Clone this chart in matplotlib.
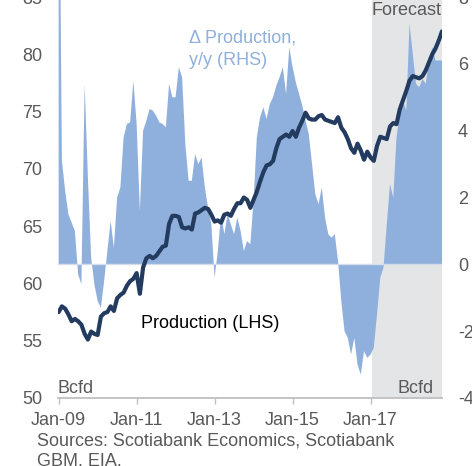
import numpy as np
import matplotlib.pyplot as plt

plt.rcParams['font.family'] = ['Liberation Sans', 'DejaVu Sans']
plt.rcParams['axes.unicode_minus'] = False

# monthly data, Jan-09 onwards
production = [57.5, 58.0, 57.8, 57.3, 56.7, 56.9, 56.7, 56.4, 55.6, 55.1,
              55.8, 55.6, 55.5, 57.1, 57.4, 57.5, 58.0, 57.6, 58.7, 59.0,
              59.2, 59.8, 60.2, 60.4, 60.9, 59.1, 61.4, 62.2, 62.4, 62.2,
              62.4, 62.8, 63.2, 63.3, 65.2, 65.9, 65.9, 65.8, 64.9, 64.8,
              64.9, 64.7, 66.1, 66.2, 66.4, 66.6, 66.5, 66.0, 65.4, 65.5,
              65.3, 66.0, 66.1, 65.9, 66.5, 67.0, 67.0, 67.5, 67.3, 66.6,
              67.3, 68.0, 68.9, 69.7, 70.3, 70.4, 70.7, 71.8, 72.6, 72.8,
              73.0, 72.8, 73.3, 72.8, 73.6, 74.2, 74.9, 74.4, 74.3, 74.3,
              74.6, 74.7, 74.3, 74.2, 74.1, 74.0, 74.5, 73.6, 73.2, 72.6,
              71.8, 71.4, 72.2, 71.6, 70.8, 71.5, 71.0, 70.7, 72.0, 72.8,
              72.7, 72.6, 73.7, 74.0, 73.9, 75.2, 76.0, 76.8, 77.7, 78.1,
              78.0, 77.9, 78.1, 78.6, 79.3, 80.0, 80.5, 81.2, 82.0]

yoy_change = [15.0, 3.1, 2.2, 1.5, 1.25, 1.0, -0.3, -0.6, 5.4, 2.6,
              0.2, -0.6, -1.1, -1.3, -0.5, 0.4, 1.3, 0.5, 2.0, 2.3,
              3.8, 4.2, 4.25, 5.5, 4.2, 1.6, 4.0, 4.3, 4.65, 4.6,
              4.45, 4.25, 4.2, 4.1, 5.4, 5.0, 5.0, 5.9, 5.6, 3.6,
              2.5, 2.5, 3.3, 3.0, 3.2, 2.3, 1.7, 1.2, -0.4, 0.4,
              1.5, 0.9, 1.5, 1.2, 0.9, 1.4, 1.0, 0.4, 0.7, 0.6,
              1.9, 3.8, 4.4, 4.7, 4.35, 4.8, 5.0, 5.35, 5.6, 5.9,
              5.1, 6.5, 5.9, 5.45, 5.1, 4.75, 4.3, 3.9, 3.0, 2.1,
              1.8, 2.3, 1.4, 0.9, 0.8, 0.9, 0.1, -1.1, -2.0, -2.2,
              -2.7, -2.2, -3.0, -3.3, -2.6, -2.8, -2.7, -2.5, -1.5, -0.4,
              -0.1, 1.2, 2.4, 2.0, 3.8, 4.5, 4.9, 4.6, 7.2, 6.3,
              5.4, 5.3, 5.55, 5.4, 6.1, 6.5, 6.1, 6.1, 6.1]

tick_months = [0, 24, 48, 72, 96]
tick_labels = ['Jan-09', 'Jan-11', 'Jan-13', 'Jan-15', 'Jan-17']
forecast_start = 96.4

months = np.arange(len(production))

gray_txt = '#595959'
area_col = '#8FB0DC'
line_col = '#243B60'

W, H = 472, 466
fig = plt.figure(figsize=(W / 100, H / 100), dpi=100)
ax = fig.add_axes([58 / W, 68 / H, 384 / W, 401 / H])
ax2 = ax.twinx()

# right axis: y/y change area + forecast shading
ax2.axvspan(forecast_start, 118, color='#E4E5E7', lw=0, zorder=0)
ax2.fill_between(months, 0, yoy_change, color=area_col, lw=0, zorder=1)
ax2.axhline(0, color='#D3DDEE', lw=1, zorder=2)
ax2.set_ylim(-4, 8)
ax2.set_yticks(range(-4, 9, 2))

# left axis: production line
ax.plot(months, production, color=line_col, lw=3, solid_joinstyle='round',
        solid_capstyle='round', zorder=3)
ax.set_ylim(50, 85)
ax.set_yticks(range(50, 86, 5))
ax.set_xlim(-0.2, 118)
ax.set_xticks(tick_months)
ax.set_xticklabels(tick_labels)

ax.set_zorder(ax2.get_zorder() + 1)
ax.patch.set_visible(False)

for s in ['top', 'left', 'right']:
    ax.spines[s].set_visible(False)
ax.spines['bottom'].set_color('#BFBFBF')
ax.spines['bottom'].set_linewidth(1.3)
for s in ax2.spines.values():
    s.set_visible(False)

ax.tick_params(axis='x', direction='out', length=4, width=1, color='#BFBFBF',
               labelsize=13, labelcolor=gray_txt, pad=6)
ax.tick_params(axis='y', length=0, pad=11.5, labelsize=13, labelcolor=gray_txt)
ax2.tick_params(axis='y', length=0, pad=11.5, labelsize=13, labelcolor=gray_txt)


def fx(x):
    return x / W


def fy(y):
    return 1 - y / H


fig.text(fx(189), fy(42.7), '\u0394 Production,', color=area_col, fontsize=13,
         va='baseline')
fig.text(fx(189), fy(65), 'y/y (RHS)', color=area_col, fontsize=13,
         va='baseline')
fig.text(fx(140.7), fy(328.3), 'Production (LHS)', color='black', fontsize=13,
         va='baseline')
fig.text(fx(57.5), fy(392.7), 'Bcfd', color=gray_txt, fontsize=13, va='baseline')
fig.text(fx(434), fy(392.7), 'Bcfd', color=gray_txt, fontsize=13,
         va='baseline', ha='right')
fig.text(fx(371.5), fy(15), 'Forecast', color=gray_txt, fontsize=13,
         va='baseline')
fig.text(fx(37.3), fy(446), 'Sources: Scotiabank Economics, Scotiabank',
         color=gray_txt, fontsize=13, va='baseline')
fig.text(fx(37.3), fy(465.5), 'GBM, EIA.', color=gray_txt, fontsize=13,
         va='baseline')

fig.savefig('out.png', dpi=100)
